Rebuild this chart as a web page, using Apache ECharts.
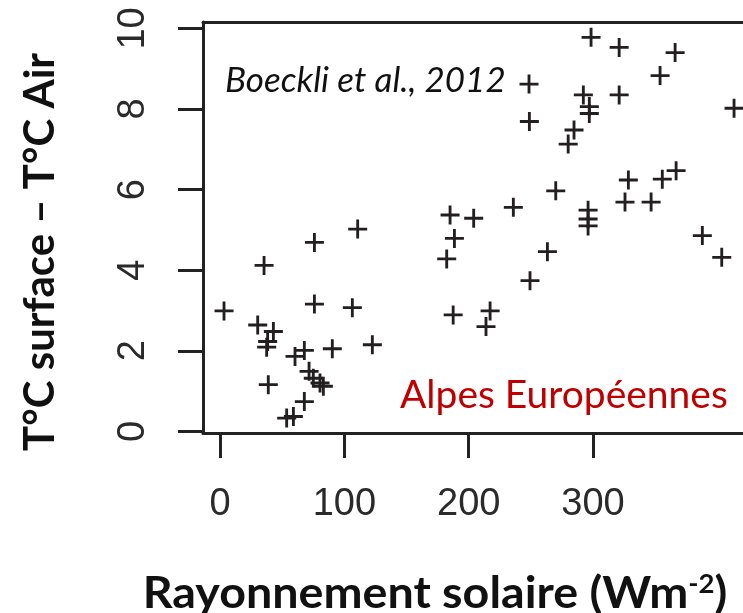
<!DOCTYPE html>
<html>
<head>
<meta charset="utf-8">
<script src="https://cdn.jsdelivr.net/npm/echarts@6/dist/echarts.min.js"></script>
<style>html,body{margin:0;padding:0;background:#fff}#c{width:743px;height:613px}</style>
</head>
<body>
<div id="c"></div>
<script>
// Solar radiation (W m-2)
const radiation = [
  3.2, 35.4, 75.9, 110.7, 75.9, 106.4, 30.3, 42.9, 38.3, 37.5, 60.3, 67.8, 90.3, 122.5,
  38.8, 71.6, 75.0, 80.4, 83.1, 67.8, 59.0, 53.6,
  185.0, 204.0, 188.5, 182.3, 187.5, 217.2, 213.9, 235.9, 249.3, 263.3, 270.0,
  296.0, 296.0, 296.0, 325.7, 346.7, 328.4, 355.7, 366.8, 387.9, 403.5,
  298.4, 321.0, 366.0, 353.9, 248.5, 292.2, 321.0, 413.4, 297.0, 297.0, 248.8, 284.7, 280.0
];
// T surface - T air (°C)
const deltaT = [
  2.99, 4.12, 4.69, 5.02, 3.16, 3.07, 2.64, 2.48, 2.23, 2.09, 1.86, 2.01, 2.05, 2.15,
  1.16, 1.49, 1.32, 1.20, 1.12, 0.74, 0.37, 0.33,
  5.37, 5.29, 4.79, 4.28, 2.89, 2.99, 2.60, 5.56, 3.74, 4.46, 5.97,
  5.49, 5.27, 5.10, 5.69, 5.69, 6.24, 6.26, 6.47, 4.86, 4.32,
  9.78, 9.53, 9.40, 8.83, 8.62, 8.35, 8.35, 8.02, 8.06, 7.89, 7.69, 7.48, 7.13
];
const xTicks = [0, 100, 200, 300];
const yTicks = [0, 2, 4, 6, 8, 10];
const xTitle = 'Rayonnement solaire (Wm';
const xTitleSup = '-2';
const yTitle = 'T°C surface – T°C Air';
const citation = 'Boeckli et al., 2012';
const regionLabel = 'Alpes Européennes';

const points = radiation.map((x, i) => [x, deltaT[i]]);
const ink = '#231f20';
const frame = {show: true, onZero: false, lineStyle: {color: '#222', width: 3}};
const chart = echarts.init(document.getElementById('c'), null, {renderer: 'canvas'});
chart.setOption({
  animation: false,
  grid: {left: 203, top: 22, right: 0, height: 411, show: false},
  xAxis: [{
    type: 'value', min: -13.7, max: 420.6, position: 'bottom',
    splitLine: {show: false}, axisLine: frame,
    axisTick: {show: true, customValues: xTicks, length: 25, lineStyle: {color: '#222', width: 3}},
    axisLabel: {customValues: xTicks, fontSize: 38, color: '#2a2a2a', margin: 53, fontFamily: 'Liberation Sans'}
  }, {
    type: 'value', min: -13.7, max: 420.6, position: 'top',
    splitLine: {show: false}, axisLine: frame,
    axisTick: {show: false}, axisLabel: {show: false}
  }],
  yAxis: {
    type: 'value', min: -0.04, max: 10.16,
    splitLine: {show: false}, axisLine: frame,
    axisTick: {show: true, customValues: yTicks, length: 25, lineStyle: {color: '#222', width: 3}},
    axisLabel: {customValues: yTicks, fontSize: 38, color: '#2a2a2a', margin: 50, rotate: 90, fontFamily: 'Liberation Sans'}
  },
  series: [{
    type: 'scatter',
    data: points,
    symbol: 'path://M-1.5,-10 H1.5 V-1.5 H10 V1.5 H1.5 V10 H-1.5 V1.5 H-10 V-1.5 H-1.5 Z',
    symbolSize: 19,
    itemStyle: {color: ink, opacity: 1},
    clip: false
  }],
  graphic: [
    {type: 'text', x: 225, y: 81, style: {text: citation, font: 'italic 35px Lato', fill: '#111', align: 'left', verticalAlign: 'middle'}},
    {type: 'text', x: 400, y: 395, style: {text: regionLabel, font: '39px Lato', fill: '#c00000', align: 'left', verticalAlign: 'middle'}},
    {type: 'text', x: 40, y: 252, rotation: Math.PI / 2,
      style: {text: yTitle, font: 'bold 42px Lato', fill: '#111', align: 'center', verticalAlign: 'middle'}},
    {type: 'text', x: 435, y: 594, scaleX: 1.06,
      style: {text: '{m|' + xTitle + '}{s|' + xTitleSup + '}{m|)}', fill: '#111', align: 'center', verticalAlign: 'middle',
        rich: {m: {font: 'bold 44px Lato', fill: '#111'}, s: {font: 'bold 26px Lato', fill: '#111', padding: [0, 0, 18, 0]}}}}
  ]
});
</script>
</body>
</html>
